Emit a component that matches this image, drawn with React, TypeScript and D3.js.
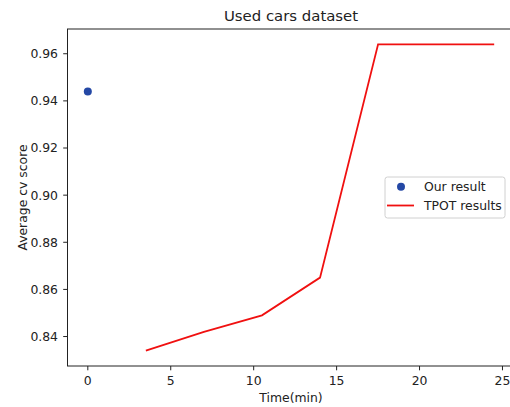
import React from "react";
import * as d3 from "d3";

const ourX = [0];
const ourY = [0.944];
const tpotX = [3.5, 7, 10.5, 14, 17.5, 21, 24.5];
const tpotY = [0.834, 0.842, 0.849, 0.865, 0.964, 0.964, 0.964];
const xTicks = [0, 5, 10, 15, 20, 25];
const yTicks = [0.84, 0.86, 0.88, 0.9, 0.92, 0.94, 0.96];
const title = "Used cars dataset";
const xLabel = "Time(min)";
const yLabel = "Average cv score";
const legendLabels = ["Our result", "TPOT results"];

const W = 510, H = 407;
const L = 67.5, R = 514.5, T = 29, B = 366;
const font = "DejaVu Sans, sans-serif";
const fs = 12.4;

export default function App() {
  const x = d3.scaleLinear().domain([-1.225, 25.725]).range([L, R]);
  const y = d3.scaleLinear().domain([0.8275, 0.9705]).range([B, T]);
  const line = d3.line<number>().x((_, i) => x(tpotX[i])).y((d) => y(d));
  const lx = 385, ly = 177, lw = 120, lh = 41;
  return (
    <svg width={W} height={H} style={{ position: "absolute", left: 0, top: 0 }} fontFamily={font}>
      <rect x={0} y={0} width={W} height={H} fill="#fff" />
      <text x={(L + R) / 2} y={21} textAnchor="middle" fontSize={14.9} fill="#222">{title}</text>
      {xTicks.map((t) => (
        <g key={"x" + t}>
          <line x1={x(t)} x2={x(t)} y1={B} y2={B + 4.3} stroke="#222" strokeWidth={1} />
          <text x={x(t)} y={384.5} textAnchor="middle" fontSize={fs} fill="#222">{t}</text>
        </g>
      ))}
      {yTicks.map((t) => (
        <g key={"y" + t}>
          <line x1={L - 4.3} x2={L} y1={y(t)} y2={y(t)} stroke="#222" strokeWidth={1} />
          <text x={L - 9.5} y={y(t) + 4.4} textAnchor="end" fontSize={fs} fill="#222">{t.toFixed(2)}</text>
        </g>
      ))}
      <text x={(L + R) / 2} y={402} textAnchor="middle" fontSize={fs} fill="#222">{xLabel}</text>
      <text transform={`translate(27,${(T + B) / 2}) rotate(-90)`} textAnchor="middle" fontSize={fs} fill="#222">{yLabel}</text>
      <path d={line(tpotY) || ""} fill="none" stroke="#f01010" strokeWidth={1.8} />
      {ourX.map((v, i) => (
        <circle key={i} cx={x(v)} cy={y(ourY[i])} r={4} fill="#2448a5" />
      ))}
      <rect x={L} y={T} width={R - L} height={B - T} fill="none" stroke="#222" strokeWidth={1} />
      <g>
        <rect x={lx} y={ly} width={lw} height={lh} rx={2.5} fill="#fff" fillOpacity={0.8} stroke="#d0d0d0" strokeWidth={1} />
        <circle cx={401} cy={186.7} r={4} fill="#2448a5" />
        <line x1={387} x2={414} y1={205.5} y2={205.5} stroke="#f01010" strokeWidth={1.8} />
        <text x={424} y={191.2} fontSize={fs} fill="#222">{legendLabels[0]}</text>
        <text x={424} y={210.3} fontSize={fs} fill="#222">{legendLabels[1]}</text>
      </g>
    </svg>
  );
}
